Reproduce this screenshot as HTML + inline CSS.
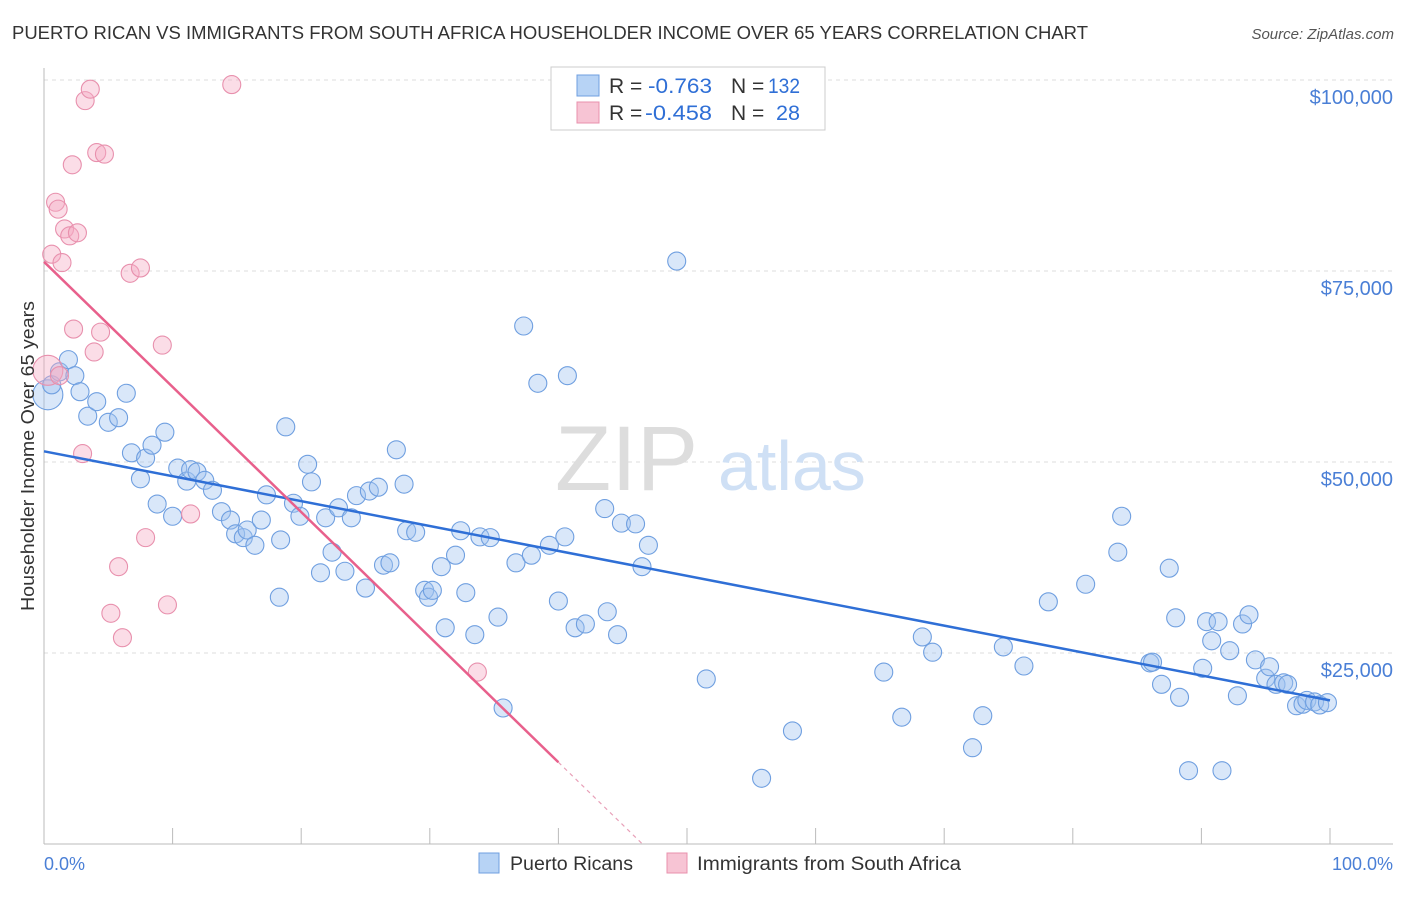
<!DOCTYPE html>
<html><head><meta charset="utf-8"><style>
body{margin:0;background:#fff;font-family:"Liberation Sans",sans-serif}
svg text{font-family:"Liberation Sans",sans-serif}
</style></head><body>
<svg id="chart" width="1406" height="892" xmlns="http://www.w3.org/2000/svg">
<text x="12" y="39" font-size="18" fill="#333" textLength="1076" lengthAdjust="spacingAndGlyphs">PUERTO RICAN VS IMMIGRANTS FROM SOUTH AFRICA HOUSEHOLDER INCOME OVER 65 YEARS CORRELATION CHART</text>
<text x="1394" y="39" font-size="15" fill="#555" text-anchor="end" font-style="italic">Source: ZipAtlas.com</text>
<g id="grid"></g>
<text x="555" y="490" font-size="92" fill="#ddd" font-family="Liberation Serif">ZIP</text>
<text x="718" y="490" font-size="70" fill="#cfe0f5">atlas</text>
<g id="points"></g>
<g id="lines"></g>
<text transform="translate(34,456) rotate(-90)" font-size="18" fill="#333" text-anchor="middle" textLength="310" lengthAdjust="spacingAndGlyphs">Householder Income Over 65 years</text>
<text x="44" y="870" font-size="18" fill="#4a7fd6">0.0%</text>
<text x="1393" y="870" font-size="18" fill="#4a7fd6" text-anchor="end">100.0%</text>
<g>
<rect x="551" y="67" width="274" height="63" fill="#fff" stroke="#ccc"/>
<rect x="577" y="75" width="22" height="21" fill="#b7d3f5" stroke="#6f9fe0"/>
<rect x="577" y="102" width="22" height="21" fill="#f7c4d4" stroke="#e890ad"/>
<text x="609" y="93" font-size="21" fill="#333">R =</text>
<text x="648" y="93" font-size="21" fill="#2f6fd6" textLength="64" lengthAdjust="spacingAndGlyphs">-0.763</text>
<text x="731" y="93" font-size="21" fill="#333">N =</text>
<text x="768" y="93" font-size="21" fill="#2f6fd6" textLength="32" lengthAdjust="spacingAndGlyphs">132</text>
<text x="609" y="120" font-size="21" fill="#333">R =</text>
<text x="645" y="120" font-size="21" fill="#2f6fd6" textLength="67" lengthAdjust="spacingAndGlyphs">-0.458</text>
<text x="731" y="120" font-size="21" fill="#333">N =</text>
<text x="776" y="120" font-size="21" fill="#2f6fd6" textLength="24" lengthAdjust="spacingAndGlyphs">28</text>
</g>
<g>
<rect x="479" y="853" width="20" height="20" fill="#b7d3f5" stroke="#6f9fe0"/>
<text x="510" y="870" font-size="19" fill="#333" textLength="123" lengthAdjust="spacingAndGlyphs">Puerto Ricans</text>
<rect x="667" y="853" width="20" height="20" fill="#f7c4d4" stroke="#e890ad"/>
<text x="697" y="870" font-size="19" fill="#333" textLength="264" lengthAdjust="spacingAndGlyphs">Immigrants from South Africa</text>
</g>
</svg>
<script>
const yTicks=[25000,50000,75000,100000];
const yTickLabels=["$25,000","$50,000","$75,000","$100,000"];
const xTicks=[0,10,20,30,40,50,60,70,80,90,100];
const blueX=[0.3,0.6,1.2,1.9,2.4,2.8,3.4,4.1,5.0,5.8,6.4,6.8,7.9,7.5,8.4,8.8,9.4,10.0,10.4,11.1,11.4,11.9,12.5,13.1,13.8,14.5,14.9,15.5,15.8,16.4,16.9,17.3,18.3,18.4,18.8,19.4,19.9,20.5,20.8,21.5,21.9,22.4,22.9,23.4,23.9,24.3,25.0,25.3,26.0,26.4,26.9,27.4,28.0,28.2,28.9,29.6,29.9,30.2,30.9,31.2,32.0,32.4,32.8,33.5,33.9,34.7,35.3,35.7,36.7,37.9,38.4,37.3,39.3,40.0,40.5,40.7,41.3,42.1,43.6,43.8,44.6,44.9,46.0,46.5,47.0,49.2,51.5,55.8,58.2,65.3,66.7,68.3,69.1,72.2,73.0,74.6,76.2,78.1,81.0,83.5,83.8,86.0,86.2,86.9,87.5,88.0,88.3,89.0,90.1,90.4,90.8,91.3,91.6,92.2,92.8,93.2,93.7,94.2,95.0,95.3,95.8,96.4,96.7,97.4,97.9,98.2,98.8,99.2,99.8];
const blueY=[58.8,60.1,61.8,63.4,61.3,59.2,56.0,57.9,55.2,55.8,59.0,51.2,50.5,47.8,52.2,44.5,53.9,42.9,49.2,47.5,49.0,48.7,47.6,46.3,43.5,42.4,40.6,40.1,41.1,39.1,42.4,45.7,32.3,39.8,54.6,44.6,42.9,49.7,47.4,35.5,42.7,38.2,44.0,35.7,42.7,45.6,33.5,46.2,46.7,36.5,36.8,51.6,47.1,41.0,40.8,33.2,32.3,33.2,36.3,28.3,37.8,41.0,32.9,27.4,40.2,40.1,29.7,17.8,36.8,37.8,60.3,67.8,39.1,31.8,40.2,61.3,28.3,28.8,43.9,30.4,27.4,42.0,41.9,36.3,39.1,76.3,21.6,8.6,14.8,22.5,16.6,27.1,25.1,12.6,16.8,25.8,23.3,31.7,34.0,38.2,42.9,23.7,23.8,20.9,36.1,29.6,19.2,9.6,23.0,29.1,26.6,29.1,9.6,25.3,19.4,28.8,30.0,24.1,21.7,23.2,20.9,21.1,20.9,18.1,18.3,18.8,18.6,18.2,18.5];
const pinkX=[0.3,0.6,1.2,1.4,0.9,1.1,1.6,2.0,2.6,2.3,2.2,3.0,3.2,3.6,3.9,4.1,4.4,4.7,5.2,5.8,6.1,6.7,7.5,7.9,9.2,9.6,11.4,14.6,33.7];
const pinkY=[62.0,77.2,61.3,76.1,84.0,83.1,80.5,79.6,80.0,67.4,88.9,51.1,97.3,98.8,64.4,90.5,67.0,90.3,30.2,36.3,27.0,74.7,75.4,40.1,65.3,31.3,43.2,99.4,22.5];
const blueTrend=[51.4,18.8];
const pinkTrend=[76.2,10.7];
const pinkSolidEnd=40;
const NS="http://www.w3.org/2000/svg";
const xs=p=>44+p*12.86;
const ys=k=>844-k*1000*191/25000;
function mk(tag,attrs,parent){const e=document.createElementNS(NS,tag);for(const k in attrs)e.setAttribute(k,attrs[k]);parent.appendChild(e);return e;}
const grid=document.getElementById('grid');
yTicks.forEach((v,i)=>{
 const y=ys(v/1000);
 const l=mk('line',{x1:44,x2:1393,y1:y,y2:y,stroke:'#ddd','stroke-dasharray':'4,4'},grid);
 
 
 const t=mk('text',{x:1393,y:y+24,'font-size':20,fill:'#4a7fd6','text-anchor':'end'},grid);
 t.textContent=yTickLabels[i];
 
 
});
const ax=mk('line',{x1:44,x2:44,y1:68,y2:844,stroke:'#bbb'},grid);


const bx=mk('line',{x1:44,x2:1393,y1:844,y2:844,stroke:'#bbb'},grid);


xTicks.forEach(p=>{
 const t=mk('line',{x1:xs(p),x2:xs(p),y1:828,y2:844,stroke:'#bbb'},grid);
 
 
});
const pts=document.getElementById('points');
blueX.forEach((p,i)=>{
 const c=mk('circle',{cx:xs(p),cy:ys(blueY[i]),r:i===0?15:9,fill:'rgba(160,196,240,0.4)',stroke:'#6f9fe0','stroke-width':1.1},pts);
 
 
});
pinkX.forEach((p,i)=>{
 const c=mk('circle',{cx:xs(p),cy:ys(pinkY[i]),r:i===0?15:9,fill:'rgba(244,170,195,0.4)',stroke:'#e890ad','stroke-width':1.1},pts);
 
 
});
const lines=document.getElementById('lines');
const bl=mk('line',{x1:xs(0),y1:ys(blueTrend[0]),x2:xs(100),y2:ys(blueTrend[1]),stroke:'#2f6fd6','stroke-width':2.5},lines);


const slope=(pinkTrend[1]-pinkTrend[0])/pinkSolidEnd;
const zeroP=-pinkTrend[0]/slope;
const pl=mk('line',{x1:xs(0),y1:ys(pinkTrend[0]),x2:xs(pinkSolidEnd),y2:ys(pinkTrend[1]),stroke:'#e8608c','stroke-width':2.5},lines);


const pd=mk('line',{x1:xs(pinkSolidEnd),y1:ys(pinkTrend[1]),x2:xs(zeroP),y2:ys(0),stroke:'#e8a0b8','stroke-width':1.2,'stroke-dasharray':'4,4'},lines);


</script>
</body></html>
